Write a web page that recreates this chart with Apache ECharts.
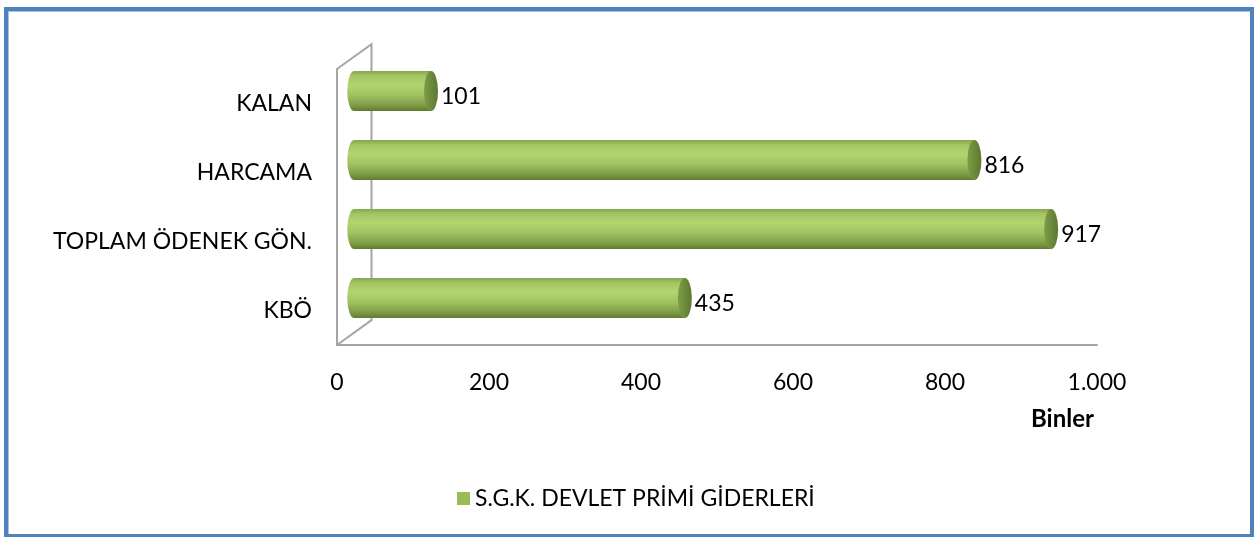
<!DOCTYPE html>
<html>
<head>
<meta charset="utf-8">
<script src="https://cdn.jsdelivr.net/npm/echarts@6/dist/echarts.min.js"></script>
<style>
html,body{margin:0;padding:0;background:#fff;}
#frame{position:absolute;left:4px;top:7px;width:1242px;height:523px;border:4px solid #4f81bd;box-shadow:inset 1px 1px 0 #a9c1e0;}
#chart{position:absolute;left:0;top:0;width:1254px;height:537px;}
</style>
</head>
<body>
<div id="frame"></div>
<div id="chart"></div>
<script>
const categories = ['KBÖ', 'TOPLAM ÖDENEK GÖN.', 'HARCAMA', 'KALAN'];
const values = [435, 917, 816, 101];
const seriesName = 'S.G.K. DEVLET PRİMİ GİDERLERİ';
const unitLabel = 'Binler';
const xMin = 0, xMax = 1000, xStep = 200;

const FONT = 'Lato';
const chart = echarts.init(document.getElementById('chart'));

function fmt(v){ return String(v).replace(/\B(?=(\d{3})+(?!\d))/g, '.'); }

const bodyGrad = {type:'linear',x:0,y:0,x2:0,y2:1,colorStops:[
  {offset:0,color:'#86a64c'},{offset:0.12,color:'#a3c564'},{offset:0.35,color:'#b2d570'},
  {offset:0.6,color:'#a0c262'},{offset:0.85,color:'#7f9d47'},{offset:1,color:'#5e7a31'}]};
const capGrad = {type:'linear',x:0,y:0,x2:1,y2:0,colorStops:[
  {offset:0,color:'#7f9c47'},{offset:0.5,color:'#6d8a3d'},{offset:1,color:'#5d7832'}]};

function barItem(params, api){
  const idx = api.value(1), val = api.value(0);
  const band = api.size([0,1])[1];
  const dx = band*0.25, dy = -band*0.18;
  const s = api.coord([0, idx]), e = api.coord([val, idx]);
  const sx = s[0]+dx, ex = e[0]+dx, cy = s[1]+dy;
  const h = band*0.58, ry = h/2, rx = 7;
  return {type:'group', children:[
    {type:'circle', x:sx, y:cy, scaleX:rx/ry, shape:{cx:0,cy:0,r:ry}, style:{fill:bodyGrad}},
    {type:'rect', shape:{x:sx,y:cy-ry,width:ex-sx,height:h}, style:{fill:bodyGrad}},
    {type:'circle', x:ex, y:cy, scaleX:rx/ry, shape:{cx:0,cy:0,r:ry}, style:{fill:capGrad}},
    {type:'text', x:ex+rx+3, y:cy+5, style:{text:String(val), fill:'#000', font:'23px '+FONT, align:'left', verticalAlign:'middle'}}
  ]};
}

function wallItem(params, api){
  const cs = params.coordSys;
  const band = cs.height/categories.length;
  const dx = band*0.5, dy = -band*0.36;
  const x0 = cs.x, y0 = cs.y, y1 = cs.y+cs.height;
  return {type:'polyline', shape:{points:[[x0,y1],[x0+dx,y1+dy],[x0+dx,y0+dy],[x0,y0]]},
    style:{stroke:'#a6a6a6', lineWidth:2, fill:null}, z2:0};
}

chart.setOption({
  animation:false,
  grid:{left:337, right:157, top:69, bottom:192, containLabel:false},
  xAxis:{type:'value', min:xMin, max:xMax, interval:xStep,
    axisLine:{show:true, lineStyle:{color:'#a6a6a6', width:2}},
    axisTick:{show:false}, splitLine:{show:false},
    axisLabel:{margin:26, color:'#000', fontSize:23, fontFamily:FONT, formatter:fmt}},
  yAxis:{type:'category', data:categories,
    axisLine:{show:true, lineStyle:{color:'#a6a6a6', width:2}},
    axisTick:{show:false},
    axisLabel:{margin:25, color:'#000', fontSize:23, fontFamily:FONT}},
  legend:{data:[{name:seriesName, icon:'rect'}], left:452, top:482, itemWidth:13, itemHeight:13, itemGap:8,
    textStyle:{color:'#000', fontSize:23, fontFamily:FONT}},
  graphic:[{type:'text', left:1031, top:407, style:{text:unitLabel, fill:'#000', font:'bold 24px '+FONT}}],
  series:[
    {type:'custom', name:'wall', renderItem:wallItem, data:[[0,0]], silent:true, z:1},
    {type:'custom', name:seriesName, renderItem:barItem, itemStyle:{color:'#9bbb59'},
     data: values.map((v,i)=>[v,i]), encode:{x:0,y:1}, z:2}
  ]
});
</script>
</body>
</html>
